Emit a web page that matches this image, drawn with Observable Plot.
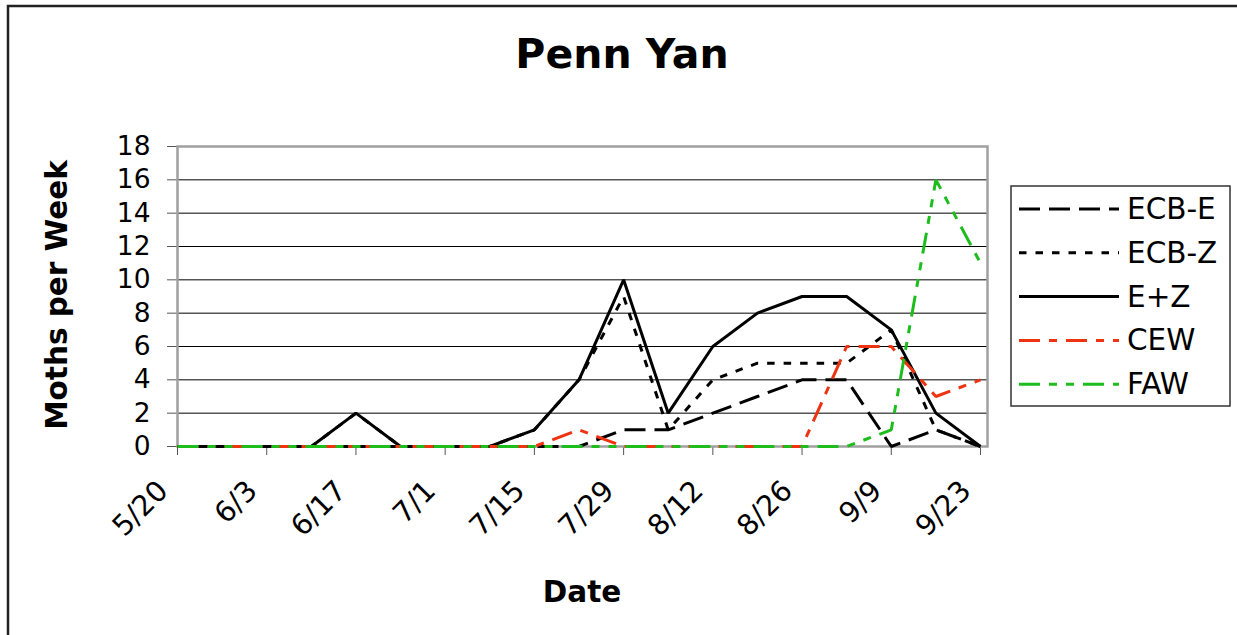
<!DOCTYPE html>
<html>
<head>
<meta charset="utf-8">
<script src="https://cdn.jsdelivr.net/npm/d3@7"></script>
<script src="https://cdn.jsdelivr.net/npm/@observablehq/plot@0.6"></script>
<style>
  html, body { margin: 0; padding: 0; background: #fff; }
  #chart svg { display: block; font-family: "DejaVu Sans", Verdana, sans-serif; }
</style>
</head>
<body>
<div id="chart"></div>
<script>
// ---- data ----
const dates = ["5/20","5/27","6/3","6/10","6/17","6/24","7/1","7/8","7/15","7/22","7/29","8/5","8/12","8/19","8/26","9/2","9/9","9/16","9/23"];
const ecbE = [0,0,0,0,0,0,0,0,0,0,1,1,2,3,4,4,0,1,0];
const ecbZ = [0,0,0,0,2,0,0,0,1,4,9,1,4,5,5,5,7,1,0];
const ePlusZ = [0,0,0,0,2,0,0,0,1,4,10,2,6,8,9,9,7,2,0];
const cew = [0,0,0,0,0,0,0,0,0,1,0,0,0,0,0,6,6,3,4];
const faw = [0,0,0,0,0,0,0,0,0,0,0,0,0,0,0,0,1,16,11];
const seriesNames = ["ECB-E","ECB-Z","E+Z","CEW","FAW"];
const yTicks = [0,2,4,6,8,10,12,14,16,18];
const xLabelIdx = [0,2,4,6,8,10,12,14,16,18];
const chartTitle = "Penn Yan";
const yTitle = "Moths per Week";
const xTitle = "Date";

// ---- styles ----
const seriesValues = [ecbE, ecbZ, ePlusZ, cew, faw];
const seriesColors = ["#000","#000","#000","#ee3311","#1ebd1e"];
const seriesDash = ["21,9", "7.5,9", null, "21,9,8,9", "21,9,8,9,8,9"];

const W = 1237, H = 635;
const pLeft = 177, pRight = 987, pTop = 146, pBottom = 446;
const step = (980 - pLeft) / 18;
const xMax = (pRight - pLeft) / step;

const lineMarks = seriesValues.map((vals, k) =>
  Plot.line(vals.map((v, i) => ({i, v})), {
    x: "i", y: "v",
    stroke: seriesColors[k], strokeWidth: 3,
    strokeDasharray: seriesDash[k] ?? undefined,
    strokeLinejoin: "miter", strokeLinecap: "butt"
  })
);

const chart = Plot.plot({
  width: W, height: H,
  marginLeft: pLeft, marginRight: W - pRight, marginTop: pTop, marginBottom: H - pBottom,
  x: {type: "linear", domain: [0, xMax], axis: null},
  y: {domain: [0, 18], axis: null},
  style: {fontFamily: "DejaVu Sans, Verdana, sans-serif", background: "white", overflow: "visible"},
  marks: [
    Plot.ruleY(yTicks.filter(d => d > 0 && d < 18), {stroke: "#000", strokeWidth: 1}),
    Plot.axisY({ticks: yTicks, tickSize: 10, tickPadding: 17, fontSize: 26.5, label: null, color: "#000", stroke: "#555"}),
    Plot.axisX({ticks: xLabelIdx, tickSize: 9, tickFormat: () => "", label: null, stroke: "#555"}),
    Plot.text(xLabelIdx, {
      x: d => d, text: d => dates[d], frameAnchor: "bottom",
      rotate: -45, textAnchor: "end", lineAnchor: "bottom",
      dx: -8, dy: 46, fontSize: 28.5, fill: "#000"
    }),
    Plot.frame({stroke: "#a0a0a0", strokeWidth: 2.5}),
    ...lineMarks
  ]
});

document.getElementById("chart").appendChild(chart);

const svg = d3.select(chart);
// outer border
svg.append("path")
  .attr("d", `M8,${H} L8,6 L${W},6`)
  .attr("fill", "none").attr("stroke", "#222").attr("stroke-width", 2.5);

// title
svg.append("text").attr("x", 622).attr("y", 68)
  .attr("text-anchor", "middle").attr("font-size", 41).attr("font-weight", "bold")
  .attr("fill", "#000").text(chartTitle);
// y title
svg.append("text").attr("transform", "translate(67,295) rotate(-90)")
  .attr("text-anchor", "middle").attr("font-size", 29.5).attr("font-weight", "bold")
  .attr("fill", "#000").text(yTitle);
// x title
svg.append("text").attr("x", 582).attr("y", 602)
  .attr("text-anchor", "middle").attr("font-size", 29.5).attr("font-weight", "bold")
  .attr("fill", "#000").text(xTitle);

// legend
const lg = svg.append("g");
lg.append("rect").attr("x", 1011).attr("y", 186).attr("width", 219).attr("height", 220)
  .attr("fill", "white").attr("stroke", "#333").attr("stroke-width", 1.5);
seriesNames.forEach((name, k) => {
  const yy = 209 + k * 43.8;
  lg.append("line").attr("x1", 1019).attr("x2", 1119).attr("y1", yy).attr("y2", yy)
    .attr("stroke", seriesColors[k]).attr("stroke-width", 3)
    .attr("stroke-dasharray", seriesDash[k]);
  lg.append("text").attr("x", 1127).attr("y", yy + 10)
    .attr("text-anchor", "start")
    .attr("font-size", 29.5).attr("fill", "#000").text(name);
});
</script>
</body>
</html>
